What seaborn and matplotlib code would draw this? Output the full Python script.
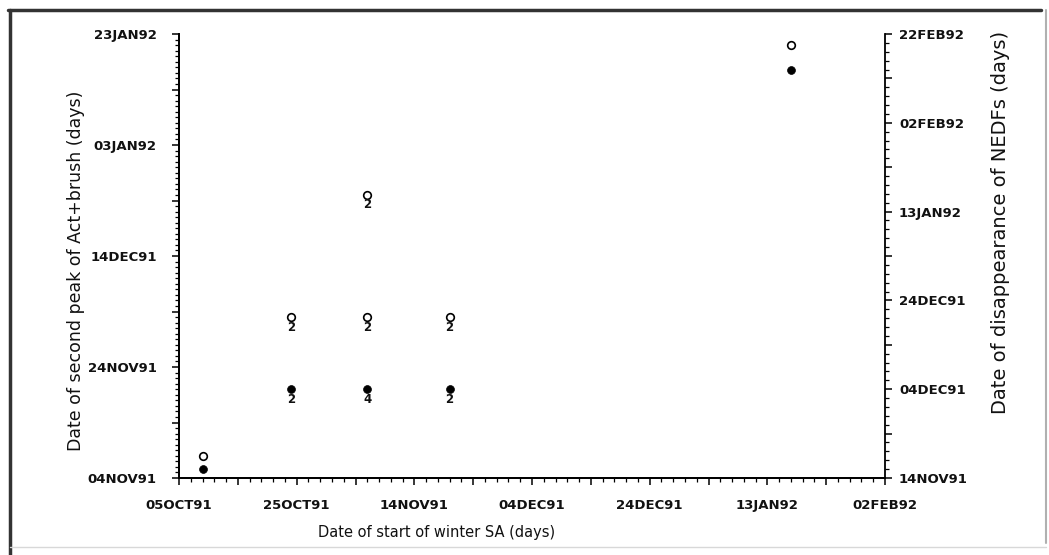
import matplotlib
matplotlib.use("Agg")
import matplotlib.pyplot as plt
import matplotlib.dates as mdates
from matplotlib.ticker import FixedLocator, FuncFormatter
from matplotlib.lines import Line2D
import pandas as pd
import seaborn as sns

# Second peak of Act+brush (left axis, open circles)
peak_start = ["1991-10-09", "1991-10-24", "1991-11-06", "1991-11-06", "1991-11-20", "1992-01-17"]
peak_date = ["1991-11-08", "1991-12-03", "1991-12-25", "1991-12-03", "1991-12-03", "1992-01-21"]
peak_n = [1, 2, 2, 2, 2, 1]

# Disappearance of NEDFs (right axis, filled circles)
nedf_start = ["1991-10-09", "1991-10-24", "1991-11-06", "1991-11-20", "1992-01-17"]
nedf_date = ["1991-11-16", "1991-12-04", "1991-12-04", "1991-12-04", "1992-02-14"]
nedf_n = [1, 2, 4, 2, 1]

# Axis ranges
x_range = ("1991-10-05", "1992-02-02")
left_range = ("1991-11-04", "1992-01-23")
right_range = ("1991-11-14", "1992-02-22")

peak = pd.DataFrame({"start": pd.to_datetime(peak_start),
                     "date": pd.to_datetime(peak_date), "n": peak_n})
nedf = pd.DataFrame({"start": pd.to_datetime(nedf_start),
                     "date": pd.to_datetime(nedf_date), "n": nedf_n})

sns.set_style("ticks")
plt.rcParams["font.family"] = ["DejaVu Sans"]
plt.rcParams["text.color"] = "#111111"
plt.rcParams["axes.labelcolor"] = "#111111"
plt.rcParams["xtick.color"] = "#111111"
plt.rcParams["ytick.color"] = "#111111"

fig = plt.figure(figsize=(10.49, 5.55), dpi=100)
ax = fig.add_axes([179 / 1049, 1 - 478 / 555, 706 / 1049, 444 / 555])
ax2 = ax.twinx()

sns.scatterplot(data=peak, x="start", y="date", ax=ax, marker="o", s=30,
                fc="white", ec="black", linewidth=1.2, legend=False, zorder=3)
sns.scatterplot(data=nedf, x="start", y="date", ax=ax2, marker="o", s=32,
                color="black", ec="black", linewidth=0.5, legend=False, zorder=3)

# overlap counts below the symbols
for a, df in ((ax, peak), (ax2, nedf)):
    for _, r in df.iterrows():
        if r["n"] > 1:
            a.annotate(str(r["n"]), (r["start"], r["date"]), xytext=(0, -2.5),
                       textcoords="offset points", ha="center", va="top",
                       fontsize=8.5, fontweight="bold", color="#111111")


def date_axis(axis, lo, hi, minor_step):
    lo_d, hi_d = pd.Timestamp(lo), pd.Timestamp(hi)
    base = mdates.date2num(lo_d)
    majors = mdates.date2num(pd.date_range(lo_d, hi_d, freq="10D"))
    minors = mdates.date2num(pd.date_range(lo_d, hi_d, freq=f"{minor_step}D"))
    axis.set_major_locator(FixedLocator(majors))
    axis.set_minor_locator(FixedLocator(minors))

    def fmt(v, pos):
        if round(v - base) % 20 != 0:
            return ""
        return mdates.num2date(v).strftime("%d%b%y").upper()

    axis.set_major_formatter(FuncFormatter(fmt))
    return mdates.date2num(lo_d), mdates.date2num(hi_d)


xlo, xhi = date_axis(ax.xaxis, *x_range, 2)
ylo, yhi = date_axis(ax.yaxis, *left_range, 1)
rlo, rhi = date_axis(ax2.yaxis, *right_range, 2)
ax.set_xlim(xlo, xhi)
ax.set_ylim(ylo, yhi)
ax2.set_ylim(rlo, rhi)

for a in (ax, ax2):
    a.spines["top"].set_visible(False)
    for s in a.spines.values():
        s.set_linewidth(1.3)
        s.set_color("black")
    a.tick_params(which="major", length=5, width=1.1, color="black",
                  labelsize=9.5)
    a.tick_params(which="minor", length=3, width=0.9, color="black")
    for lab in a.get_xticklabels() + a.get_yticklabels():
        lab.set_fontweight("bold")

ax.tick_params(axis="y", which="major", pad=11)
ax.tick_params(axis="x", which="major", pad=10)
ax2.tick_params(axis="y", which="major", pad=5)
ax.spines["right"].set_visible(False)

ax.set_xlabel("Date of start of winter SA (days)", fontsize=10.5)
ax.set_ylabel("Date of second peak of Act+brush (days)", fontsize=12.5)
ax2.set_ylabel("Date of disappearance of NEDFs (days)", fontsize=14)
ax.xaxis.label.set_va("center")
ax.yaxis.label.set_va("center")
ax2.yaxis.label.set_va("center")
ax.xaxis.set_label_coords(0.365, -0.122)
ax.yaxis.set_label_coords(-0.146, 0.467)
ax2.yaxis.set_label_coords(1.163, 0.575)

# frame around the whole figure
W, H = 1049, 555
fig.add_artist(Line2D([8 / W, 1041 / W], [1 - 10 / H] * 2, color="#333333", lw=2.5))
fig.add_artist(Line2D([10 / W] * 2, [0, 1 - 10 / H], color="#333333", lw=2.5))
fig.add_artist(Line2D([1046 / W] * 2, [12 / H, 1 - 10 / H], color="#b0b0b0", lw=1.5))
fig.add_artist(Line2D([10 / W, 1046 / W], [1 - 547 / H] * 2, color="#d8d8d8", lw=1.0))

fig.savefig("out.png", dpi=100, facecolor="white")
